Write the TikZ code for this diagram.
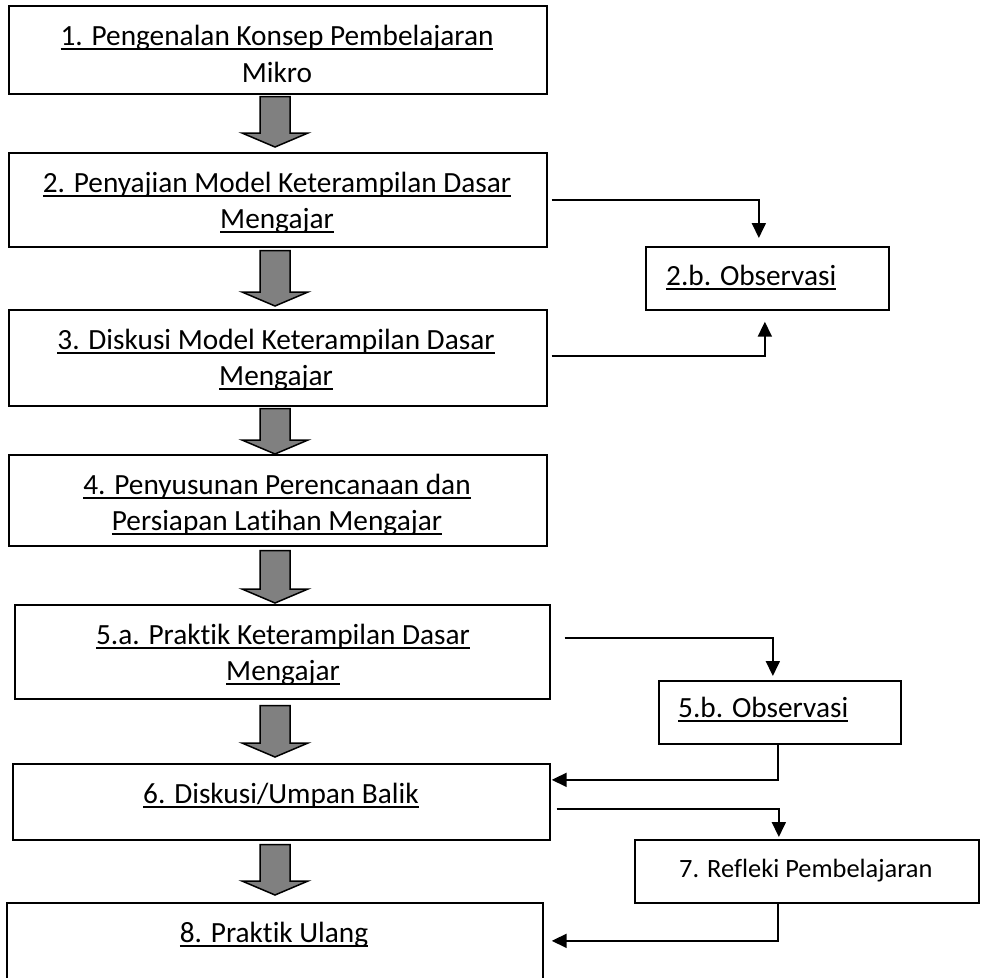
\documentclass[tikz,border=0pt]{standalone}
\usepackage{fontspec}
\setmainfont{Carlito}[Ligatures={NoCommon}]
\usetikzlibrary{arrows.meta,calc}
\newsavebox\ulbox
\newcommand\ulx[1]{\sbox\ulbox{#1}\rlap{\rule[-0.16em]{\wd\ulbox}{0.06em}}\usebox\ulbox}
\tikzset{
  box/.style={draw, line width=1.7pt, inner sep=0pt, anchor=north west, rectangle},
  txt/.style={inner sep=0pt, font=\fontsize{29.3pt}{36pt}\selectfont, text=black},
  smalltxt/.style={inner sep=0pt, font=\fontsize{26.4pt}{32pt}\selectfont, text=black},
  conn/.style={line width=1.8pt, -{Triangle[length=15pt,width=14pt]}},
  garrowst/.style={draw=black, line width=1.5pt, fill=black!50, line join=miter}
}
% block arrow: #1 upper box, #2 lower box, #3 start gap, #4 tip gap
\newcommand\garrow[4]{%
  \draw[garrowst] let \p1=(#1.south), \p2=(#2.north) in
   (260pt,\y1-#3) -- (290pt,\y1-#3) -- (290pt,\y2+#4+14pt) -- (308pt,\y2+#4+14pt)
   -- (275pt,\y2+#4) -- (242pt,\y2+#4+14pt) -- (260pt,\y2+#4+14pt) -- cycle;}
\begin{document}
\begin{tikzpicture}[x=1pt,y=-1pt]
\useasboundingbox (0,0) rectangle (982,977);
\clip (0,0) rectangle (982,977);
% main column boxes
\node[box, minimum width=538pt, minimum height=88pt] (b1) at (8,5) {};
\node[box, minimum width=538pt, minimum height=94pt] (b2) at (8,152) {};
\node[box, minimum width=538pt, minimum height=96pt] (b3) at (8,309) {};
\node[box, minimum width=538pt, minimum height=91pt] (b4) at (8,454) {};
\node[box, minimum width=535pt, minimum height=94pt] (b5) at (14,604) {};
\node[box, minimum width=537pt, minimum height=76pt] (b6) at (12,763) {};
\node[box, minimum width=536pt, minimum height=98pt] (b8) at (6,902) {};
% side boxes
\node[box, minimum width=243pt, minimum height=63pt] (o2) at (645,246) {};
\node[box, minimum width=242pt, minimum height=63pt] (o5) at (658,680) {};
\node[box, minimum width=344pt, minimum height=63pt] (o7) at (634,839) {};
% texts
\node[txt, anchor=base] (t1a) at (277,45) {\ulx{1. Pengenalan Konsep Pembelajaran}};
\node[txt, anchor=base] (t1b) at (277,82) {Mikro};
\node[txt, anchor=base] (t2a) at (277,192) {\ulx{2. Penyajian Model Keterampilan Dasar}};
\node[txt, anchor=base] (t2b) at (277,228) {\ulx{Mengajar}};
\node[txt, anchor=base] (t3a) at (276,349) {\ulx{3. Diskusi Model Keterampilan Dasar}};
\node[txt, anchor=base] (t3b) at (276,385) {\ulx{Mengajar}};
\node[txt, anchor=base] (t4a) at (277,494) {\ulx{4. Penyusunan Perencanaan dan}};
\node[txt, anchor=base] (t4b) at (277,530) {\ulx{Persiapan Latihan Mengajar}};
\node[txt, anchor=base] (t5a) at (283,644) {\ulx{5.a. Praktik Keterampilan Dasar}};
\node[txt, anchor=base] (t5b) at (283,680) {\ulx{Mengajar}};
\node[txt, anchor=base] (t6) at (281,803) {\ulx{6. Diskusi/Umpan Balik}};
\node[txt, anchor=base] (t8) at (274,942) {\ulx{8. Praktik Ulang}};
\node[txt, anchor=base west] (to2) at (666,285) {\ulx{2.b. Observasi}};
\node[txt, anchor=base west] (to5) at (678,717) {\ulx{5.b. Observasi}};
\node[smalltxt, anchor=base west] (to7) at (679,877) {7. Refleki Pembelajaran};
% block arrows
\garrow{b1}{b2}{2pt}{5pt}
\garrow{b2}{b3}{3pt}{3pt}
\garrow{b3}{b4}{2pt}{0pt}
\garrow{b4}{b5}{4pt}{1pt}
\garrow{b5}{b6}{6pt}{6pt}
\garrow{b6}{b8}{4pt}{7pt}
% connectors
\draw[conn] ([xshift=4pt]b2.east) -| ([xshift=-8.5pt,yshift=8pt]o2.north);
\draw[conn] ([xshift=4pt,yshift=2pt]b3.east) -| ([xshift=-2.5pt,yshift=-11pt]o2.south);
\draw[conn] ([xshift=14pt,yshift=14pt]b5.east) -| ([xshift=-7pt,yshift=4pt]o5.north);
\draw[conn] ([xshift=-2pt]o5.south) |- ([xshift=1pt,yshift=22pt]b6.east);
\draw[conn] ([xshift=6pt,yshift=-7pt]b6.east) -| ([xshift=-28pt,yshift=2pt]o7.north);
\draw[conn] ([xshift=-29pt]o7.south) |- ([xshift=8pt,yshift=11pt]b8.east);
\end{tikzpicture}
\end{document}
